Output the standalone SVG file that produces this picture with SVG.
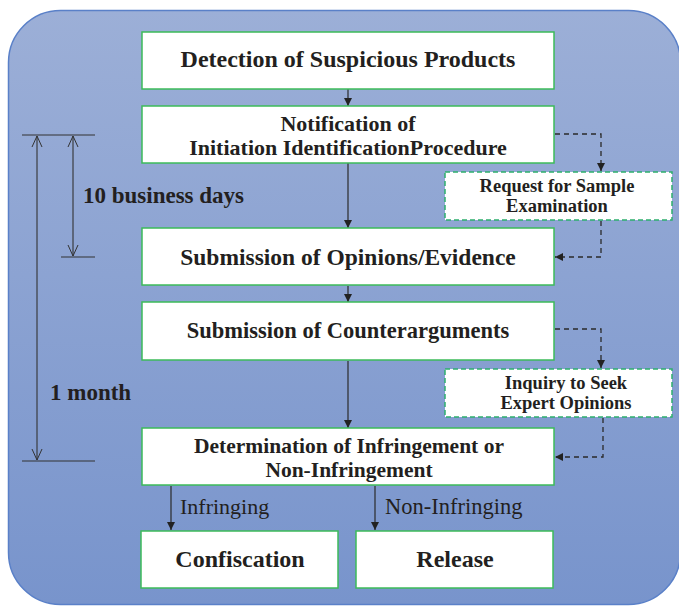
<svg xmlns="http://www.w3.org/2000/svg" width="679" height="606" viewBox="0 0 679 606">
<defs>
<linearGradient id="bg" x1="0" y1="0" x2="0" y2="1">
<stop offset="0" stop-color="#9cafd7"/>
<stop offset="1" stop-color="#7894cc"/>
</linearGradient>
<marker id="ah" viewBox="0 0 8 8" refX="8" refY="4" markerWidth="8" markerHeight="8" markerUnits="userSpaceOnUse" orient="auto">
<path d="M0,0 L8,4 L0,8 Z" fill="#222"/>
</marker>
<marker id="open" viewBox="0 0 12 12" refX="11" refY="6" markerWidth="12" markerHeight="12" markerUnits="userSpaceOnUse" orient="auto-start-reverse">
<path d="M0,1 L11,6 L0,11" fill="none" stroke="#333" stroke-width="1"/>
</marker>
<style>
.node{fill:#fff;stroke:#3dbb5a;stroke-width:1.5}
.dnode{fill:#fff;stroke:#2eae6e;stroke-width:1.5;stroke-dasharray:5 3}
.t{font-family:"Liberation Serif","Times New Roman",serif;font-weight:bold;fill:#231f20;text-anchor:middle}
.lbl{font-family:"Liberation Serif","Times New Roman",serif;fill:#231f20}
.solid{stroke:#2a2a2a;stroke-width:1.2;fill:none;marker-end:url(#ah)}
.dash{stroke:#2a2a2a;stroke-width:1.3;fill:none;stroke-dasharray:5 4}
.dim{stroke:#333;stroke-width:1.1;fill:none}
</style>
</defs>
<rect id="background" x="8.5" y="10.5" width="672" height="594" rx="52" ry="52" fill="url(#bg)" stroke="#5a80c8" stroke-width="1.5"/>

<g id="timeline">
<line class="dim" x1="22" y1="135" x2="95" y2="135"/>
<line class="dim" x1="61" y1="257" x2="95" y2="257"/>
<line class="dim" x1="22" y1="461" x2="95" y2="461"/>
<line class="dim" x1="73" y1="136" x2="73" y2="256" marker-start="url(#open)" marker-end="url(#open)"/>
<line class="dim" x1="37" y1="136" x2="37" y2="460" marker-start="url(#open)" marker-end="url(#open)"/>
<text class="lbl" x="83" y="203" font-size="23" font-weight="bold">10 business days</text>
<text class="lbl" x="50" y="400" font-size="23" font-weight="bold">1 month</text>
</g>

<g id="connectors">
<line class="solid" x1="348" y1="89" x2="348" y2="106"/>
<line class="solid" x1="348" y1="163" x2="348" y2="228"/>
<line class="solid" x1="348" y1="286" x2="348" y2="302"/>
<line class="solid" x1="348" y1="361" x2="348" y2="428"/>
<line class="solid" x1="171" y1="486" x2="171" y2="530"/>
<line class="solid" x1="375" y1="486" x2="375" y2="530"/>
<polyline class="dash" points="555,134 601,134 601,171" marker-end="url(#ah)"/>
<polyline class="dash" points="601,221 601,257 555,257" marker-end="url(#ah)"/>
<polyline class="dash" points="555,329 601,329 601,368" marker-end="url(#ah)"/>
<polyline class="dash" points="603,418 603,457 555,457" marker-end="url(#ah)"/>
<text class="lbl" x="180" y="514" font-size="22">Infringing</text>
<text class="lbl" x="385" y="514" font-size="22.5">Non-Infringing</text>
</g>

<g id="n-detection">
<rect class="node" x="142" y="32" width="412" height="57"/>
<text class="t" x="348" y="67" font-size="24">Detection of Suspicious Products</text>
</g>
<g id="n-notification">
<rect class="node" x="142" y="106" width="412" height="57"/>
<text class="t" x="348" y="131" font-size="22">Notification of</text>
<text class="t" x="348" y="155" font-size="22">Initiation IdentificationProcedure</text>
</g>
<g id="n-request">
<rect class="dnode" x="445" y="172" width="227" height="48"/>
<text class="t" x="557" y="192" font-size="18.5">Request for Sample</text>
<text class="t" x="557" y="212" font-size="18.5">Examination</text>
</g>
<g id="n-submission">
<rect class="node" x="142" y="228" width="412" height="57"/>
<text class="t" x="348" y="265" font-size="23.5">Submission of Opinions/Evidence</text>
</g>
<g id="n-counter">
<rect class="node" x="142" y="302" width="412" height="58"/>
<text class="t" x="348" y="338" font-size="22.5">Submission of Counterarguments</text>
</g>
<g id="n-inquiry">
<rect class="dnode" x="445" y="369" width="227" height="48"/>
<text class="t" x="566" y="389" font-size="18.5">Inquiry to Seek</text>
<text class="t" x="566" y="409" font-size="18.5">Expert Opinions</text>
</g>
<g id="n-determination">
<rect class="node" x="142" y="428" width="412" height="57"/>
<text class="t" x="349" y="453" font-size="21.5">Determination of Infringement or</text>
<text class="t" x="349" y="477" font-size="21.5">Non-Infringement</text>
</g>
<g id="n-confiscation">
<rect class="node" x="141" y="531" width="197" height="57"/>
<text class="t" x="240" y="567" font-size="24">Confiscation</text>
</g>
<g id="n-release">
<rect class="node" x="356" y="531" width="197" height="57"/>
<text class="t" x="455" y="567" font-size="24">Release</text>
</g>
</svg>
